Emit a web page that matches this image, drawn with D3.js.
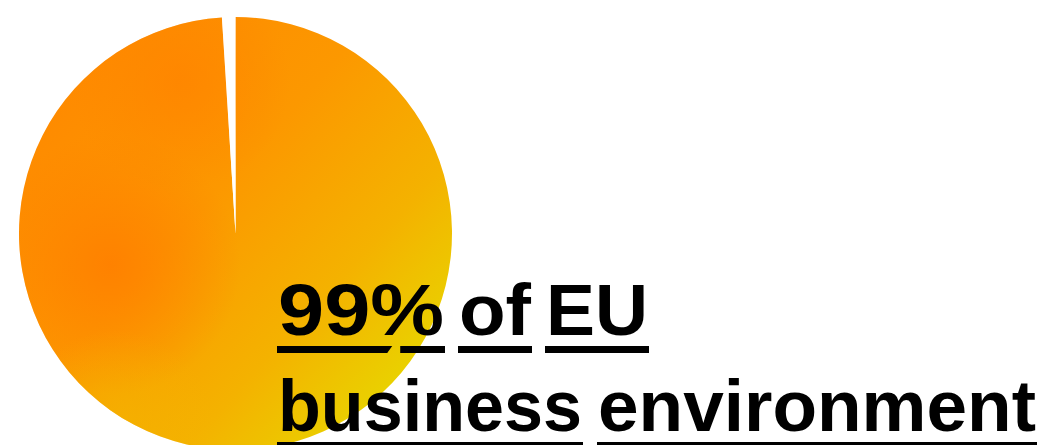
<!DOCTYPE html>
<html>
<head>
<meta charset="utf-8">
<script src="https://cdn.jsdelivr.net/npm/d3@7"></script>
<style>
  html, body { margin: 0; padding: 0; background: #fff; }
  svg { display: block; }
</style>
</head>
<body>
<div id="chart"></div>
<script>
// share of the EU business environment
var categories = ["EU business environment", "other"];
var shares = [99, 1];
var sliceColors = ["url(#pieFill)", "#ffffff"];

// headline words, one array per line
var line1Words = ["99%", "of", "EU"];
var line2Words = ["business", "environment"];
// target advance width of each word (px), so the flow matches the original typeface
var line1Widths = [166, 72, 102];
var line2Widths = [304, 438];

var width = 1057, height = 445;
var cx = 235.5, cy = 233.5, radius = 216.5;

var svg = d3.select("#chart")
    .append("svg")
    .attr("width", width)
    .attr("height", height);

var defs = svg.append("defs");

// base gradient: orange top-left to yellow bottom-right
var lin = defs.append("linearGradient")
    .attr("id", "pieFill")
    .attr("gradientUnits", "userSpaceOnUse")
    .attr("x1", 30 - cx).attr("y1", 60 - cy)
    .attr("x2", 400 - cx).attr("y2", 400 - cy);
[[0, "#ff8700"], [0.45, "#fc9800"], [0.75, "#f4b200"], [1, "#e8d500"]].forEach(function (s) {
    lin.append("stop").attr("offset", s[0]).attr("stop-color", s[1]);
});

// darker orange spots
function spot(id, x, y, r, color, op) {
    var g = defs.append("radialGradient")
        .attr("id", id)
        .attr("gradientUnits", "userSpaceOnUse")
        .attr("cx", x - cx).attr("cy", y - cy).attr("r", r);
    g.append("stop").attr("offset", 0).attr("stop-color", color).attr("stop-opacity", op);
    g.append("stop").attr("offset", 1).attr("stop-color", color).attr("stop-opacity", 0);
}
spot("spotLeft", 110, 265, 130, "#ff7e00", 0.85);
spot("spotTop", 180, 80, 110, "#ff8300", 0.7);
spot("spotBottom", 115, 430, 100, "#f3b600", 0.6);

var pie = d3.pie().sort(null).value(function (d) { return d; });
var arc = d3.arc().innerRadius(0).outerRadius(radius);
var arcs = pie(shares);

var g = svg.append("g")
    .attr("transform", "translate(" + cx + "," + cy + ")");

g.selectAll("path.slice")
    .data(arcs)
    .enter()
    .append("path")
    .attr("class", "slice")
    .attr("d", arc)
    .attr("fill", function (d, i) { return sliceColors[i]; });

// texture overlays on the big slice only
["spotLeft", "spotTop", "spotBottom"].forEach(function (id) {
    g.append("path")
        .datum(arcs[0])
        .attr("d", arc)
        .attr("fill", "url(#" + id + ")");
});

// headline
var fontSize = 72;
function drawLine(words, widths, x0, baseline, gap, isFirst) {
    var x = x0;
    words.forEach(function (w, i) {
        svg.append("text")
            .attr("x", x)
            .attr("y", baseline)
            .attr("font-family", "'Liberation Sans', Arial, sans-serif")
            .attr("font-weight", "bold")
            .attr("font-size", fontSize)
            .attr("fill", "#000")
            .attr("textLength", widths[i])
            .attr("lengthAdjust", "spacingAndGlyphs")
            .text(w);

        var ux0 = x - 1, ux1 = x + widths[i] + 1, uy = baseline + 11, uh = 7;
        if (isFirst && i === 0) {
            // underline broken where the percent slash drops into it
            var cut = x + widths[i] * 0.67;
            svg.append("path")
                .attr("d", "M" + ux0 + "," + uy + "L" + (cut + 3) + "," + uy +
                    "L" + (cut - 2) + "," + (uy + uh) + "L" + ux0 + "," + (uy + uh) + "Z")
                .attr("fill", "#000");
            svg.append("rect")
                .attr("x", cut + 11).attr("y", uy)
                .attr("width", ux1 - cut - 11).attr("height", uh)
                .attr("fill", "#000");
        } else {
            svg.append("rect")
                .attr("x", ux0).attr("y", uy)
                .attr("width", ux1 - ux0).attr("height", uh)
                .attr("fill", "#000");
        }
        x += widths[i] + gap;
    });
}

drawLine(line1Words, line1Widths, 278, 335, 15, true);
drawLine(line2Words, line2Widths, 278, 431, 16, false);
</script>
</body>
</html>
